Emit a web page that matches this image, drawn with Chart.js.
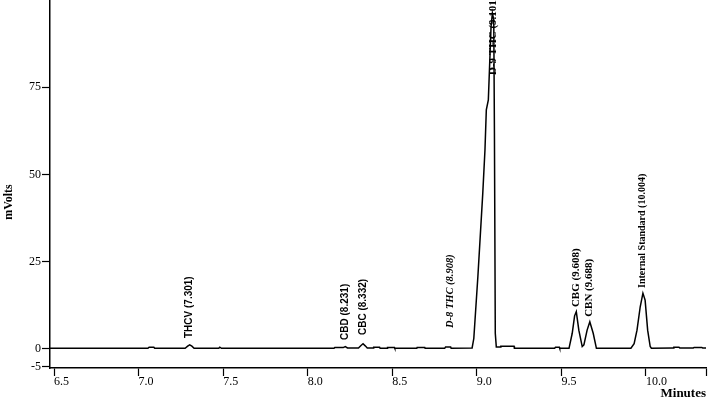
<!DOCTYPE html>
<html>
<head>
<meta charset="utf-8">
<script src="https://cdn.jsdelivr.net/npm/chart.js@4/dist/chart.umd.min.js"></script>
<style>
    html, body { margin: 0; padding: 0; background: #fff; }
    #wrap { width: 708px; height: 401px; }
</style>
</head>
<body>
<div id="wrap"><canvas id="chart"></canvas></div>
<script>
// detector trace (minutes, mVolts)
let traceTime = [
    6.476, 7.055, 7.062, 7.09, 7.095, 7.275, 7.29, 7.302, 7.315, 7.328,
    7.474, 7.48, 7.49, 8.155, 8.16, 8.21, 8.222, 8.235, 8.30, 8.315,
    8.327, 8.34, 8.352, 8.388, 8.39, 8.425, 8.428, 8.47, 8.472, 8.513,
    8.515, 8.645, 8.647, 8.692, 8.694, 8.81, 8.815, 8.845, 8.848, 8.972,
    8.982, 9.006, 9.035, 9.048, 9.056, 9.068, 9.084, 9.092, 9.1, 9.104,
    9.109, 9.115, 9.14, 9.142, 9.22, 9.222, 9.46, 9.465, 9.488, 9.49,
    9.545, 9.564, 9.578, 9.588, 9.603, 9.623, 9.633, 9.652, 9.668, 9.688,
    9.707, 9.911, 9.93, 9.947, 9.966, 9.982, 9.995, 10.01, 10.025, 10.032,
    10.16, 10.165, 10.195, 10.2, 10.28, 10.285, 10.33, 10.335, 10.355
];
let traceSignal = [
    0.2, 0.2, 0.5, 0.5, 0.2, 0.2, 0.8, 1.2, 0.8, 0.2,
    0.2, 0.5, 0.2, 0.2, 0.4, 0.4, 0.7, 0.3, 0.3, 1.0,
    1.5, 0.9, 0.3, 0.3, 0.5, 0.5, 0.2, 0.2, 0.45, 0.45,
    0.2, 0.2, 0.45, 0.45, 0.2, 0.2, 0.6, 0.6, 0.2, 0.3,
    3, 20.7, 44.6, 57, 68.5, 71.4, 92.4, 96.2, 94.3, 61.9,
    4.5, 0.6, 0.6, 0.8, 0.8, 0.2, 0.2, 0.5, 0.5, 0.2,
    0.2, 4.5, 9.5, 10.7, 5.4, 0.7, 1.2, 5.4, 7.8, 4.5,
    0.2, 0.2, 1.5, 5.4, 12.1, 16, 14, 5.4, 0.7, 0.2,
    0.3, 0.5, 0.5, 0.3, 0.3, 0.45, 0.45, 0.3, 0.3
];

let xTicks = [6.5, 7.0, 7.5, 8.0, 8.5, 9.0, 9.5, 10.0];
let yTicks = [-5, 0, 25, 50, 75];

// peak annotations: text, where it stands (minutes), level of its foot (mVolts)
let peakText = ['THCV (7.301)', 'CBD (8.231)', 'CBC (8.332)', 'D-8 THC (8.908)', 'D-9 THC (9.101)', 'CBG (9.608)', 'CBN (9.688)', 'Internal Standard (10.004)'];
let peakTime = [7.299, 8.221, 8.326, 8.841, 9.094, 9.588, 9.664, 9.982];
let peakLevel = [3.15, 2.6, 4.0, 6.0, 78.5, 12.0, 9.2, 17.5];

let peakFonts = [
    'bold 10px "Liberation Sans"', 'bold 10px "Liberation Sans"', 'bold 10px "Liberation Sans"',
    'italic bold 10.5px "Liberation Serif"', 'bold 11px "Liberation Serif"',
    'bold 11px "Liberation Serif"', 'bold 11px "Liberation Serif"', 'bold 10px "Liberation Serif"'
];

let xMin = 6.476, xMax = 10.355;

let points = traceTime.map((t, i) => ({x: t, y: traceSignal[i]}));

function noPadding(scale) {
    scale.paddingTop = 0;
    scale.paddingBottom = 0;
    scale.paddingLeft = 0;
    scale.paddingRight = 0;
}

let peakLabels = {
    id: 'peakLabels',
    afterDatasetsDraw(chart) {
        let ctx = chart.ctx;
        let xs = chart.scales.x, ys = chart.scales.y;
        ctx.save();
        ctx.fillStyle = '#000';
        ctx.textAlign = 'left';
        ctx.textBaseline = 'middle';
        for (let i = 0; i < peakText.length; i++) {
            ctx.save();
            ctx.translate(xs.getPixelForValue(peakTime[i]), ys.getPixelForValue(peakLevel[i]));
            ctx.rotate(-Math.PI / 2);
            ctx.font = peakFonts[i];
            ctx.fillText(peakText[i], 0, 0);
            ctx.restore();
        }
        // y axis title
        ctx.save();
        ctx.translate(9, 202);
        ctx.rotate(-Math.PI / 2);
        ctx.font = 'bold 12px "Liberation Serif"';
        ctx.textAlign = 'center';
        ctx.fillText('mVolts', 0, 0);
        ctx.restore();
        ctx.restore();
    }
};

let chart = new Chart(document.getElementById('chart').getContext('2d'), {
    type: 'line',
    data: {
        datasets: [{
            data: points,
            borderColor: '#000',
            borderWidth: 1.5,
            pointRadius: 0,
            tension: 0,
            fill: false
        }]
    },
    options: {
        responsive: true,
        maintainAspectRatio: false,
        animation: false,
        layout: {autoPadding: false, padding: {top: 0, right: 2, left: 0, bottom: 0}},
        plugins: {legend: {display: false}, tooltip: {enabled: false}},
        scales: {
            x: {
                type: 'linear',
                min: xMin,
                max: xMax,
                afterBuildTicks: (scale) => {
                    scale.ticks = xTicks.concat([xMax]).map(v => ({value: v}));
                },
                afterFit: (scale) => { scale.height = 33; noPadding(scale); },
                ticks: {
                    align: 'start',
                    padding: -1,
                    color: '#000',
                    font: {family: 'Liberation Serif', size: 12},
                    callback: (v) => v === xMax ? '' : v.toFixed(1)
                },
                grid: {drawOnChartArea: false, tickLength: 8, color: '#000', tickWidth: 1.2},
                border: {color: '#000', width: 1.5},
                title: {
                    display: true,
                    text: 'Minutes',
                    align: 'end',
                    color: '#000',
                    padding: 0,
                    font: {family: 'Liberation Serif', size: 13, weight: 'bold'}
                }
            },
            y: {
                type: 'linear',
                min: -5.45,
                max: 100,
                afterBuildTicks: (scale) => {
                    scale.ticks = yTicks.map(v => ({value: v}));
                },
                afterFit: (scale) => { scale.width = 50; noPadding(scale); },
                ticks: {
                    padding: 1,
                    color: '#000',
                    font: {family: 'Liberation Serif', size: 12}
                },
                grid: {drawOnChartArea: false, tickLength: 8, color: '#000', tickWidth: 1.2},
                border: {color: '#000', width: 1.5}
            }
        }
    },
    plugins: [peakLabels]
});
</script>
</body>
</html>
